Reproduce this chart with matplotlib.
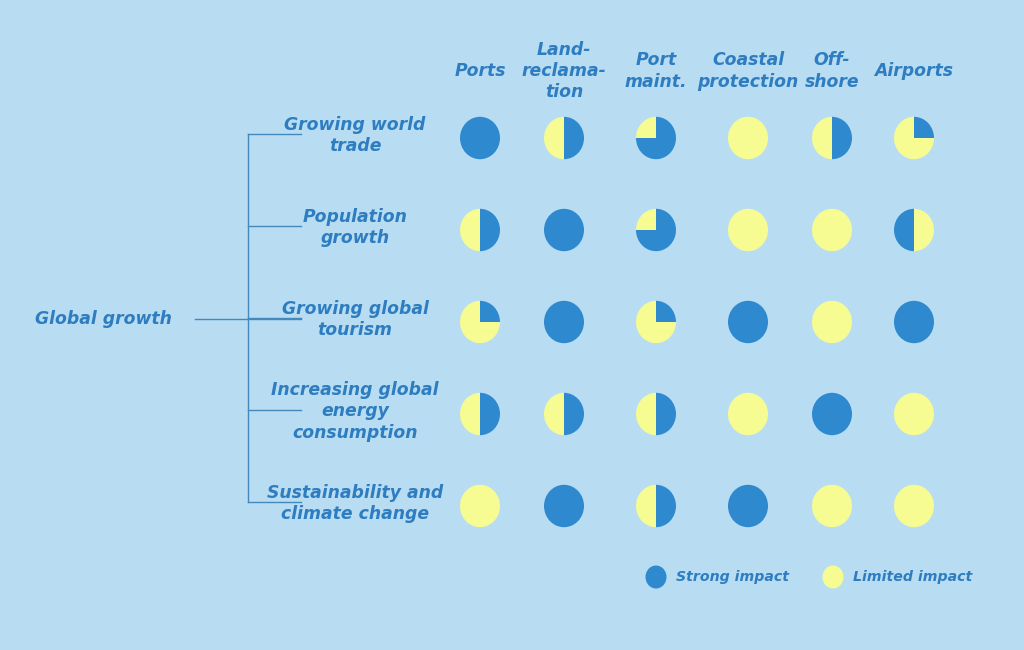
import matplotlib
matplotlib.use("Agg")
import matplotlib.pyplot as plt
from matplotlib.patches import Ellipse
from matplotlib.transforms import Affine2D

# ---------------- data ----------------
columns = ["Ports", "Land-\nreclama-\ntion", "Port\nmaint.", "Coastal\nprotection", "Off-\nshore", "Airports"]
drivers = ["Growing world\ntrade", "Population\ngrowth", "Growing global\ntourism",
           "Increasing global\nenergy\nconsumption", "Sustainability and\nclimate change"]
root_label = "Global growth"
# share of "strong impact" (blue) per cell, rows = drivers, cols = columns
strong_share = [
    [1.00, 0.50, 0.75, 0.00, 0.50, 0.25],
    [0.50, 1.00, 0.75, 0.00, 0.00, 0.50],
    [0.25, 1.00, 0.25, 1.00, 0.00, 1.00],
    [0.50, 0.50, 0.50, 0.00, 1.00, 0.00],
    [0.00, 1.00, 0.50, 1.00, 0.00, 0.00],
]
# cells where the strong share is drawn counter-clockwise (blue on the left)
mirrored = {(1, 5)}
legend_labels = ["Strong impact", "Limited impact"]

# ---------------- style / layout ----------------
BG = "#B8DDF3"
BLUE = "#2F89CF"
YELLOW = "#F6FC92"
TXT = "#2E7DC0"
LINE = "#4488BC"
W, H = 1024, 650
col_x = [480, 564, 656, 748, 832, 914]
row_y = [H - v for v in (138, 230, 322, 414, 506)]
pie_r = 20
y_stretch = 1.06
font = dict(family="DejaVu Sans", weight="bold", style="italic", color=TXT)
FS = 12.4

fig = plt.figure(figsize=(W / 100, H / 100), dpi=100, facecolor=BG)
ax = fig.add_axes([0, 0, 1, 1])
ax.set_facecolor(BG)

# pies
for i, row in enumerate(strong_share):
    for j, s in enumerate(row):
        vals = [s, 1 - s]
        cols = [BLUE, YELLOW]
        ccw = (i, j) in mirrored
        cx, cy = col_x[j], row_y[i]
        wedges, _ = ax.pie([v for v in vals if v > 0],
                           colors=[c for v, c in zip(vals, cols) if v > 0],
                           center=(cx, cy), radius=pie_r, startangle=90,
                           counterclock=ccw, frame=True,
                           wedgeprops=dict(linewidth=0))
        stretch = Affine2D().translate(-cx, -cy).scale(1, y_stretch).translate(cx, cy)
        for w in wedges:
            w.set_transform(stretch + ax.transData)

ax.set_xlim(0, W)
ax.set_ylim(0, H)
ax.set_aspect("equal")
ax.axis("off")

# column headers
header_y = H - 71
for j, name in enumerate(columns):
    ax.text(col_x[j], header_y, name, ha="center", va="center", fontsize=FS,
            linespacing=1.22, **font)

# driver labels
label_x = 355
for i, name in enumerate(drivers):
    ax.text(label_x, row_y[i] + 2.5, name, ha="center", va="center", fontsize=FS,
            linespacing=1.22, **font)

# tree lines
tree_x = 248
branch_end = 301
branch_y = [y + 4 for y in row_y]
ax.plot([tree_x, tree_x], [branch_y[0], branch_y[-1]], color=LINE, lw=1.0)
for y in branch_y:
    ax.plot([tree_x, branch_end], [y, y], color=LINE, lw=1.0)
mid_y = H - 319
ax.plot([195, branch_end], [mid_y, mid_y], color=LINE, lw=1.0)
ax.text(103, mid_y, root_label, ha="center", va="center", fontsize=FS, **font)

# legend
leg_y = H - 577
for cx, color, lab in [(656, BLUE, legend_labels[0]), (833, YELLOW, legend_labels[1])]:
    ax.add_patch(Ellipse((cx, leg_y), 21, 23, color=color, lw=0))
    ax.text(cx + 20, leg_y, lab, ha="left", va="center", fontsize=10.2, **font)

fig.savefig("out.png", dpi=100, facecolor=BG)
